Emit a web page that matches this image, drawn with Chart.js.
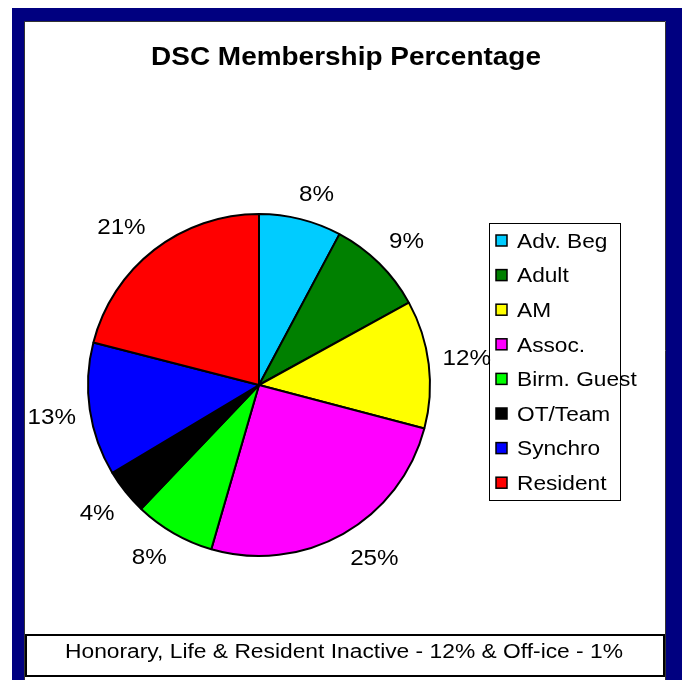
<!DOCTYPE html>
<html>
<head>
<meta charset="utf-8">
<script src="https://cdn.jsdelivr.net/npm/chart.js@4"></script>
<style>
  html, body { margin: 0; padding: 0; background: #fff; }
  #wrap { width: 682px; height: 680px; }
</style>
</head>
<body>
<div id="wrap"><canvas id="pie" width="682" height="680"></canvas></div>
<script>
/* ── Data ───────────────────────────────────────────────────────────── */

const TITLE = 'DSC Membership Percentage';
const FOOTNOTE = 'Honorary, Life & Resident Inactive - 12% & Off-ice - 1%';

const categories = ['Adv. Beg', 'Adult', 'AM', 'Assoc.', 'Birm. Guest', 'OT/Team', 'Synchro', 'Resident'];
const shares     = [7.8, 9.2, 12.1, 25.4, 7.6, 4.3, 12.6, 21.0];
const sliceColors = ['#00CCFF', '#008000', '#FFFF00', '#FF00FF', '#00FF00', '#000000', '#0000FF', '#FF0000'];

/* ── Style ──────────────────────────────────────────────────────────── */

const FONT = "'Liberation Sans', Arial, sans-serif";
const NAVY = '#000080';

// The original text is a little wider than Arial, so stretch it horizontally.
function wideText(ctx, txt, x, y, sx) {
    ctx.save();
    ctx.translate(x, y);
    ctx.scale(sx, 1);
    ctx.fillText(txt, 0, 0);
    ctx.restore();
}

// Frame, title, legend box and footnote box (drawn before the pie)
const framePlugin = {
    id: 'frame',
    beforeDraw(chart) {
        const ctx = chart.ctx;
        ctx.save();
        ctx.fillStyle = '#fff';
        ctx.fillRect(0, 0, 682, 680);
        ctx.fillStyle = NAVY;
        ctx.fillRect(12, 8, 670, 672);
        ctx.fillStyle = '#fff';
        ctx.fillRect(25, 21, 641, 659);
        // thin shadow lines on inner edge
        ctx.strokeStyle = '#333';
        ctx.lineWidth = 1;
        ctx.beginPath();
        ctx.moveTo(24.5, 680); ctx.lineTo(24.5, 21.5); ctx.lineTo(665.5, 21.5); ctx.lineTo(665.5, 680);
        ctx.stroke();

        // title
        ctx.fillStyle = '#000';
        ctx.font = `bold 26px ${FONT}`;
        ctx.textAlign = 'center';
        ctx.textBaseline = 'middle';
        wideText(ctx, TITLE, 346, 58, 1.075);

        // footnote box
        ctx.lineWidth = 2;
        ctx.strokeStyle = '#000';
        ctx.strokeRect(26, 635, 638, 41);
        ctx.font = `20px ${FONT}`;
        wideText(ctx, FOOTNOTE, 344, 652, 1.14);

        // legend
        ctx.lineWidth = 1;
        ctx.strokeRect(489.5, 223.5, 131, 277);
        ctx.font = `21px ${FONT}`;
        ctx.textAlign = 'left';
        chart.data.labels.forEach((label, i) => {
            const y = 241 + i * 34.6;
            ctx.fillStyle = chart.data.datasets[0].backgroundColor[i];
            ctx.fillRect(496, y - 6, 11, 11);
            ctx.lineWidth = 1.5;
            ctx.strokeStyle = '#000';
            ctx.strokeRect(496, y - 6, 11, 11);
            ctx.fillStyle = '#000';
            wideText(ctx, label, 517, y + 1, 1.08);
        });
        ctx.restore();
    },
};

// Percent labels outside each slice, box edge kept a fixed gap from the rim
const labelPlugin = {
    id: 'pctLabels',
    afterDatasetsDraw(chart) {
        const ctx = chart.ctx;
        const meta = chart.getDatasetMeta(0);
        const data = chart.data.datasets[0].data;
        const total = data.reduce((a, b) => a + b, 0);
        const clamp = v => Math.max(-1, Math.min(1, v));
        const SX = 1.1;
        ctx.save();
        ctx.fillStyle = '#000';
        ctx.font = `22px ${FONT}`;
        ctx.textAlign = 'center';
        ctx.textBaseline = 'middle';
        meta.data.forEach((arc, i) => {
            const p = arc.getProps(['x', 'y', 'startAngle', 'endAngle', 'outerRadius'], true);
            const mid = (p.startAngle + p.endAngle) / 2;
            const dx = Math.cos(mid), dy = Math.sin(mid);
            const txt = Math.round(data[i] / total * 100) + '%';
            const hw = ctx.measureText(txt).width * SX / 2, hh = 12;
            const r = p.outerRadius + 14;
            const cx = p.x + dx * r + hw * clamp(dx * 3);
            const cy = p.y + dy * r + hh * clamp(dy * 3);
            wideText(ctx, txt, cx, cy + 1, SX);
        });
        ctx.restore();
    },
};

new Chart(document.getElementById('pie'), {
    type: 'pie',
    data: {
        labels: categories,
        datasets: [{
            data: shares,
            backgroundColor: sliceColors,
            borderColor: '#000',
            borderWidth: 2,
        }],
    },
    options: {
        responsive: false,
        animation: false,
        devicePixelRatio: 1,
        layout: { padding: { left: 87, top: 213, right: 251, bottom: 123 } },
        plugins: {
            legend: { display: false },
            title: { display: false },
            tooltip: { enabled: false },
        },
    },
    plugins: [framePlugin, labelPlugin],
});
</script>
</body>
</html>
